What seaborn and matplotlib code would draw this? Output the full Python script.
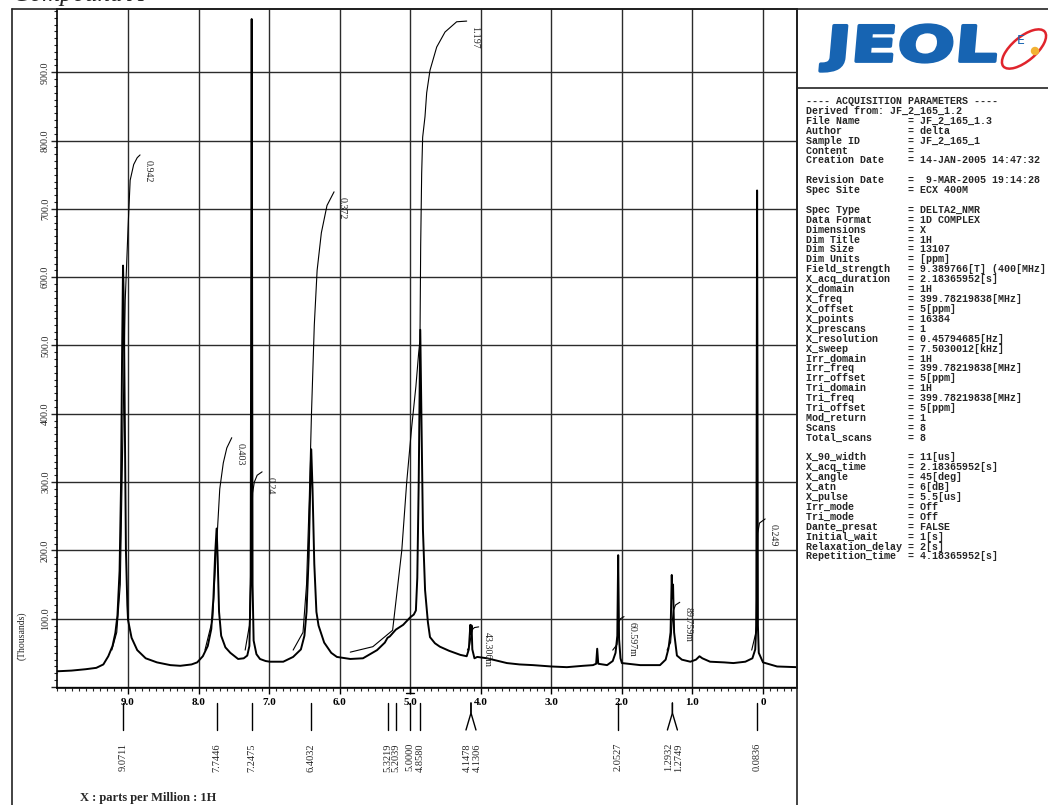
import matplotlib
matplotlib.use("Agg")
import numpy as np
import pandas as pd
import matplotlib.pyplot as plt
import seaborn as sns
from matplotlib.lines import Line2D
from matplotlib.patches import Ellipse, Circle, PathPatch
from matplotlib.textpath import TextPath
from matplotlib.font_manager import FontProperties
from matplotlib.ticker import MultipleLocator
from matplotlib import transforms

# ---------------------------------------------------------------
# Spectrum trace (ppm, intensity in thousands)
# ---------------------------------------------------------------
spec_ppm = [10.00, 9.80, 9.60, 9.45, 9.35, 9.28, 9.22, 9.18, 9.15, 9.12, 9.10,
            9.085, 9.0711, 9.06, 9.045, 9.03, 9.01, 9.00, 8.95, 8.87, 8.75,
            8.59, 8.40, 8.26, 8.10, 8.02, 7.94, 7.87, 7.82, 7.79, 7.765,
            7.7446, 7.73, 7.71, 7.68, 7.62, 7.55, 7.44, 7.36, 7.31, 7.28,
            7.262, 7.2475, 7.235, 7.22, 7.18, 7.13, 7.05, 6.99, 6.80, 6.66,
            6.55, 6.50, 6.47, 6.44, 6.42, 6.4032, 6.385, 6.36, 6.33, 6.30,
            6.22, 6.12, 6.04, 5.85, 5.67, 5.47, 5.36, 5.3219, 5.29, 5.2039,
            5.10, 5.00, 4.95, 4.92, 4.90, 4.88, 4.858, 4.84, 4.82, 4.79,
            4.75, 4.72, 4.65, 4.58, 4.45, 4.29, 4.20, 4.17, 4.1478, 4.14,
            4.1306, 4.12, 4.09, 4.05, 3.91, 3.75, 3.63, 3.45, 3.26, 3.00,
            2.78, 2.55, 2.41, 2.365, 2.35, 2.335, 2.21, 2.13, 2.09, 2.065,
            2.0527, 2.04, 2.02, 2.00, 1.74, 1.46, 1.38, 1.34, 1.31, 1.2932,
            1.285, 1.2749, 1.26, 1.22, 1.15, 1.03, 0.95, 0.90, 0.86, 0.75,
            0.55, 0.42, 0.25, 0.15, 0.11, 0.095, 0.0836, 0.072, 0.06, 0.00,
            -0.20, -0.48]
spec_k = [23, 24, 26, 28, 33, 45, 60, 79, 105, 170, 290,
          480, 617, 560, 380, 200, 120, 98, 72, 54, 42,
          36, 32, 31, 33, 36, 45, 60, 85, 130, 195,
          232, 190, 110, 75, 58, 50, 41, 42, 46, 60,
          150, 978, 150, 68, 48, 41, 38, 37, 37, 44,
          55, 75, 110, 190, 280, 348, 290, 180, 110, 90,
          65, 50, 44, 41, 42, 54, 65, 72, 74, 84,
          91, 102, 106, 112, 160, 300, 523, 380, 230, 142,
          95, 73, 64, 59, 53, 47, 45, 55, 91, 78,
          90, 55, 42, 44, 42, 38, 35, 33, 32, 30,
          29, 31, 32, 34, 56, 34, 32, 38, 50, 75,
          193, 70, 42, 35, 32, 32, 40, 56, 80, 164,
          130, 150, 80, 46, 40, 37, 40, 45, 42, 37,
          36, 35, 37, 42, 55, 90, 727, 90, 50, 36,
          30, 29]

# integral curves
int_labels = ["0.942", "0.403", "0.24", "0.372", "1.197",
              "43.306m", "60.597m", "89.759m", "0.249"]
int_ppm = [
    [9.23, 9.16, 9.11, 9.08, 9.04, 9.00, 8.97, 8.92, 8.87, 8.83],
    [7.91, 7.80, 7.76, 7.725, 7.70, 7.65, 7.60, 7.53],
    [7.34, 7.28, 7.255, 7.235, 7.21, 7.17, 7.10],
    [6.66, 6.52, 6.47, 6.43, 6.40, 6.36, 6.32, 6.26, 6.18, 6.08],
    [5.85, 5.53, 5.25, 5.12, 5.05, 4.98, 4.92, 4.88, 4.862, 4.852, 4.838,
     4.824, 4.791, 4.767, 4.72, 4.625, 4.507, 4.342, 4.20],
    [4.19, 4.16, 4.14, 4.12, 4.09, 4.03],
    [2.13, 2.07, 2.055, 2.045, 2.02, 1.97],
    [1.36, 1.31, 1.29, 1.27, 1.24, 1.18],
    [0.16, 0.10, 0.085, 0.075, 0.05, -0.03],
]
int_k = [
    [54, 80, 150, 330, 566, 672, 742, 765, 775, 779],
    [54, 100, 180, 244, 290, 328, 350, 365],
    [54, 90, 200, 284, 300, 310, 315],
    [54, 80, 150, 280, 400, 530, 610, 665, 705, 725],
    [51, 59, 83, 200, 300, 380, 440, 490, 508, 647, 752,
     805, 835, 870, 903, 937, 959, 974, 975],
    [54, 60, 74, 84, 87, 88],
    [54, 62, 80, 95, 100, 103],
    [54, 65, 92, 112, 120, 124],
    [54, 80, 160, 225, 240, 246],
]

# peak picks
pick_ppm = [9.0711, 7.7446, 7.2475, 6.4032, 5.3219, 5.2039, 5.0000, 4.8580,
            4.1478, 4.1306, 2.0527, 1.2932, 1.2749, 0.0836]

x_ticks = [9, 8, 7, 6, 5, 4, 3, 2, 1, 0]
x_ticklabels = ["9.0", "8.0", "7.0", "6.0", "5.0", "4.0", "3.0", "2.0", "1.0", "0"]
y_ticks = [0, 100, 200, 300, 400, 500, 600, 700, 800, 900]
y_ticklabels = ["", "100.0", "200.0", "300.0", "400.0", "500.0",
                "600.0", "700.0", "800.0", "900.0"]

param_names = [
    "---- ACQUISITION PARAMETERS ----", "Derived from: JF_2_165_1.2",
    "File Name", "Author", "Sample ID", "Content", "Creation Date", "",
    "Revision Date", "Spec Site", "",
    "Spec Type", "Data Format", "Dimensions", "Dim Title", "Dim Size",
    "Dim Units", "Field_strength", "X_acq_duration", "X_domain", "X_freq",
    "X_offset", "X_points", "X_prescans", "X_resolution", "X_sweep",
    "Irr_domain", "Irr_freq", "Irr_offset", "Tri_domain", "Tri_freq",
    "Tri_offset", "Mod_return", "Scans", "Total_scans", "",
    "X_90_width", "X_acq_time", "X_angle", "X_atn", "X_pulse", "Irr_mode",
    "Tri_mode", "Dante_presat", "Initial_wait", "Relaxation_delay",
    "Repetition_time",
]
param_values = [
    None, None,
    "JF_2_165_1.3", "delta", "JF_2_165_1", "", "14-JAN-2005 14:47:32", None,
    " 9-MAR-2005 19:14:28", "ECX 400M", None,
    "DELTA2_NMR", "1D COMPLEX", "X", "1H", "13107",
    "[ppm]", "9.389766[T] (400[MHz]", "2.18365952[s]", "1H", "399.78219838[MHz]",
    "5[ppm]", "16384", "1", "0.45794685[Hz]", "7.5030012[kHz]",
    "1H", "399.78219838[MHz]", "5[ppm]", "1H", "399.78219838[MHz]",
    "5[ppm]", "1", "8", "8", None,
    "11[us]", "2.18365952[s]", "45[deg]", "6[dB]", "5.5[us]", "Off",
    "Off", "FALSE", "1[s]", "2[s]",
    "4.18365952[s]",
]

# ---------------------------------------------------------------
W, H, DPI = 1048, 805, 100
X0, X1, Y0, Y1 = 57, 797, 9, 688          # plot box in pixels
XLIM = (10.007, -0.482)
YLIM = (-1.5, 992.7)


def fx(px):
    return px / W


def fy(py):
    return 1 - py / H


sns.set_theme(style="white")
plt.rcParams['font.family'] = ['Liberation Serif', 'DejaVu Serif']

fig = plt.figure(figsize=(W / DPI, H / DPI), dpi=DPI)
fig.patch.set_facecolor("white")
ax = fig.add_axes([fx(X0), fy(Y1), (X1 - X0) / W, (Y1 - Y0) / H])

spec = pd.DataFrame({"ppm": spec_ppm, "k": spec_k})
sns.lineplot(data=spec, x="ppm", y="k", sort=False, estimator=None,
             color="black", lw=1.4, ax=ax)

for xs, ys in zip(int_ppm, int_k):
    sns.lineplot(x=xs, y=ys, sort=False, estimator=None,
                 color="black", lw=0.8, ax=ax)

ax.set_xlim(*XLIM)
ax.set_ylim(*YLIM)
ax.set_xlabel("")
ax.set_ylabel("")

ax.set_xticks(x_ticks, labels=x_ticklabels, fontsize=8, fontweight="bold")
ax.set_yticks(y_ticks, labels=y_ticklabels, fontsize=7.2)
ax.xaxis.set_minor_locator(MultipleLocator(0.1))
ax.yaxis.set_minor_locator(MultipleLocator(10))
ax.tick_params(axis="x", which="major", direction="out", length=4, width=1,
               pad=3, bottom=True, colors="black")
ax.tick_params(axis="x", which="minor", direction="out", length=2.5,
               width=0.8, bottom=True)
ax.tick_params(axis="y", which="major", direction="out", length=4, width=1,
               pad=1, left=True, labelrotation=90)
ax.tick_params(axis="y", which="minor", direction="out", length=2.2,
               width=0.8, left=True)
for lbl in ax.get_yticklabels():
    lbl.set_va("center")

ax.grid(True, which="major", color="#2b2b2b", lw=1.0)
for s in ax.spines.values():
    s.set_color("black")
    s.set_linewidth(1.2)

# integral values
px_per_ppm = (X1 - X0) / (XLIM[0] - XLIM[1])
for lab, xs, ys in zip(int_labels, int_ppm, int_k):
    ax.annotate(lab, xy=(xs[-1], ys[-1]), xytext=(6.0, -3.6),
                textcoords="offset points", rotation=270,
                ha="center", va="top", fontsize=7.2)

# peak picks below the axis
blend = transforms.blended_transform_factory(ax.transData, fig.transFigure)
spread = {8: -5, 9: 5, 11: -5, 12: 5}
for i, p in enumerate(pick_ppm):
    dx = spread.get(i, 0)
    if dx:
        pair = i + 1 if dx < 0 else i - 1
        top = (p + pick_ppm[pair]) / 2
    else:
        top = p
    bot = top - dx / px_per_ppm
    lab = top - (dx + (1 if dx else 0)) / px_per_ppm
    fig.add_artist(Line2D([top, top, bot], [fy(703), fy(713), fy(730)],
                          transform=blend, color="black", lw=1.0))
    fig.text(lab, fy(743), f"{p:.4f}", transform=blend, rotation=90,
             ha="center", va="top", fontsize=7.5)

# x offset marker at 5.0
fig.add_artist(Line2D([5.06, 4.94], [fy(693), fy(693)], transform=blend,
                      color="black", lw=1.0))
fig.add_artist(Line2D([5.0, 5.0], [fy(688), fy(693)], transform=blend,
                      color="black", lw=1.0))

fig.text(fx(22), fy(636), "(Thousands)", rotation=90, ha="center",
         va="center", fontsize=7)
fig.text(fx(80), fy(798), "X : parts per Million : 1H", ha="left",
         va="center", fontsize=9, fontweight="bold")
fig.text(fx(13), fy(1), "Compound A", ha="left", va="baseline",
         fontsize=18, style="italic")

# page frame
for xs, ys in [([12, 12], [9, 805]), ([12, 1048], [9, 9]),
               ([797, 797], [9, 805]), ([797, 1048], [88, 88])]:
    fig.add_artist(Line2D([fx(v) for v in xs], [fy(v) for v in ys],
                          transform=fig.transFigure, color="#222222", lw=1.2))

# JEOL logo: heavy block letters stretched into the box 820..1000 x 23..72
logo = TextPath((0, 0), "JEOL", size=1,
                prop=FontProperties(family="DejaVu Sans", weight="bold"))
ext = logo.get_extents()
to_box = (transforms.Affine2D()
          .translate(-ext.x0, -ext.y0)
          .scale(174 / ext.width, 46 / ext.height)
          .skew_deg(5, 0)
          .translate(820, H - 71)
          .scale(1 / DPI))
fig.add_artist(PathPatch(to_box.transform_path(logo), facecolor="#1764b2",
                         edgecolor="#1764b2", lw=2.4, joinstyle="round",
                         transform=fig.dpi_scale_trans))
fig.add_artist(Ellipse((1024 / DPI, (H - 49) / DPI), 0.54, 0.24, angle=40,
                       transform=fig.dpi_scale_trans, fill=False,
                       edgecolor="#e0242c", lw=1.8))
fig.add_artist(Circle((1035 / DPI, (H - 51) / DPI), 0.035,
                      transform=fig.dpi_scale_trans, color="#f2b233"))
fig.text(fx(1021), fy(40), "E", ha="center", va="center", fontsize=9,
         color="#1764b2", family="DejaVu Sans")

# acquisition parameters
for i, (name, val) in enumerate(zip(param_names, param_values)):
    if not name:
        continue
    line = name if val is None else f"{name:<17}= {val}"
    fig.text(fx(806), fy(101 + i * 9.9), line, ha="left", va="center",
             fontsize=7.2, family="Liberation Mono", fontweight="bold")

fig.savefig("out.png", dpi=DPI)
